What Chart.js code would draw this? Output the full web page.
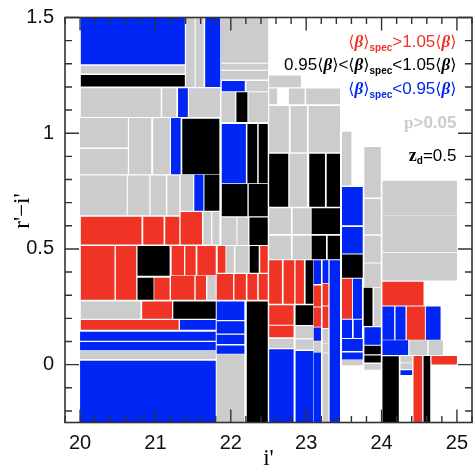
<!DOCTYPE html>
<html>
<head>
<meta charset="utf-8">
<script src="https://cdn.jsdelivr.net/npm/chart.js@4"></script>
<style>
  html, body { margin: 0; padding: 0; background: #fff; }
  #wrap { width: 476px; height: 473px; }
</style>
</head>
<body>
<div id="wrap"><canvas id="chart"></canvas></div>
<script>
// tick labels
const xMajorTicks = [20, 21, 22, 23, 24, 25];
const yMajorTicks = [0, 0.5, 1, 1.5];

// cells: [i min, i max, r-i min, r-i max]
const blueCells = [
  [20.01, 21.39, 1.298, 1.5], [21.66, 21.86, 1.2, 1.5], [21.3, 21.43, 1.07, 1.194],
  [21.206, 21.334, 0.823, 1.066], [21.88, 22.185, 1.181, 1.226], [21.88, 22.2, 0.784, 1.04],
  [21.516, 21.636, 0.665, 0.82], [21.325, 21.8, 0.151, 0.193], [20, 21.8, 0.103, 0.142],
  [20, 21.8, 0.062, 0.098], [20, 21.8, -0.25, 0.017], [21.813, 22.18, 0.193, 0.273],
  [21.813, 22.18, 0.135, 0.187], [21.813, 22.18, 0.089, 0.129], [21.813, 22.18, 0.047, 0.083],
  [23.475, 23.75, 0.602, 0.768], [23.475, 23.75, 0.48, 0.595], [23.62, 23.74, 0.198, 0.371],
  [23.475, 23.608, 0.115, 0.194], [23.63, 23.74, 0.115, 0.194], [23.475, 23.75, 0.059, 0.111],
  [23.475, 23.75, 0.022, 0.053], [23.772, 23.99, 0.086, 0.162], [24.012, 24.167, 0.108, 0.251],
  [24.185, 24.318, 0.108, 0.251], [24.588, 24.783, 0.108, 0.251], [24.012, 24.353, 0.042, 0.105],
  [24.251, 24.406, -0.045, -0.024], [23.099, 23.196, 0.348, 0.451], [23.218, 23.294, 0.353, 0.451],
  [23.311, 23.449, -0.25, 0.451], [23.099, 23.196, 0.103, 0.161], [23.099, 23.196, -0.25, 0.052],
  [22.509, 22.833, -0.25, 0.066], [22.859, 23.094, -0.25, 0.059]
];

const redCells = [
  [20.01, 20.815, 0.519, 0.639], [20.838, 21.108, 0.519, 0.639], [21.13, 21.316, 0.519, 0.639],
  [21.334, 21.618, 0.519, 0.66], [20.01, 20.457, 0.28, 0.513], [20.475, 20.745, 0.28, 0.513],
  [21.215, 21.379, 0.386, 0.513], [21.396, 21.534, 0.386, 0.513], [21.556, 21.8, 0.386, 0.513],
  [20.984, 21.188, 0.28, 0.376], [21.206, 21.516, 0.28, 0.384], [21.534, 21.671, 0.28, 0.384],
  [21.826, 21.929, 0.397, 0.513], [22.39, 22.49, 0.397, 0.513], [21.813, 22.03, 0.28, 0.392],
  [22.048, 22.2, 0.28, 0.392], [22.22, 22.35, 0.28, 0.392], [22.37, 22.49, 0.28, 0.392],
  [20.824, 21.22, 0.198, 0.273], [20.01, 21.308, 0.151, 0.193], [22.509, 22.678, 0.263, 0.451],
  [22.7, 22.842, 0.263, 0.451], [22.859, 22.97, 0.263, 0.451], [23.099, 23.196, 0.251, 0.342],
  [23.218, 23.294, 0.256, 0.349], [23.099, 23.196, 0.164, 0.247], [23.218, 23.294, 0.158, 0.251],
  [22.509, 22.833, 0.172, 0.257], [22.509, 22.833, 0.118, 0.168], [23.475, 23.608, 0.198, 0.371],
  [24.012, 24.557, 0.256, 0.358], [24.335, 24.575, 0.108, 0.251], [24.424, 24.539, -0.25, 0.037],
  [24.663, 25, 0.001, 0.037]
];

const blackCells = [
  [20.01, 21.39, 1.202, 1.252], [21.356, 21.848, 0.823, 1.063], [21.65, 21.848, 0.665, 0.82],
  [22.074, 22.22, 1.048, 1.177], [22.22, 22.35, 0.784, 1.04], [22.37, 22.49, 0.784, 1.04],
  [21.88, 22.22, 0.641, 0.781], [22.238, 22.49, 0.641, 0.781], [22.247, 22.49, 0.517, 0.636],
  [20.762, 21.188, 0.384, 0.513], [20.762, 20.975, 0.28, 0.376], [22.25, 22.37, 0.397, 0.513],
  [21.237, 21.8, 0.198, 0.273], [22.212, 22.49, -0.25, 0.273], [22.509, 22.762, 0.682, 0.911],
  [23.041, 23.249, 0.682, 0.911], [23.272, 23.449, 0.682, 0.911], [23.072, 23.449, 0.565, 0.676],
  [23.072, 23.263, 0.455, 0.557], [23.285, 23.449, 0.455, 0.557], [22.992, 23.094, 0.263, 0.451],
  [22.859, 23.094, 0.171, 0.257], [23.475, 23.75, 0.376, 0.476], [23.763, 23.88, 0.167, 0.332],
  [23.772, 23.99, 0.045, 0.082], [23.772, 23.99, 0.009, 0.039], [24.012, 24.229, -0.25, 0.036],
  [24.557, 24.646, -0.25, 0.037]
];

const grayCells = [
  [20.01, 21.39, 1.258, 1.291], [21.405, 21.52, 1.2, 1.5], [21.534, 21.64, 1.2, 1.5],
  [20.01, 21.07, 1.07, 1.194], [21.09, 21.277, 1.07, 1.194], [21.445, 21.857, 1.07, 1.194],
  [20, 20.634, 0.938, 1.066], [20, 20.634, 0.823, 0.932], [20.65, 20.944, 0.823, 1.066],
  [20.97, 21.19, 0.823, 1.066], [20, 20.62, 0.646, 0.817], [20.634, 20.918, 0.646, 0.817],
  [20.935, 21.139, 0.646, 0.817], [21.157, 21.316, 0.646, 0.817], [21.334, 21.498, 0.665, 0.82],
  [21.87, 22.495, 1.305, 1.5], [21.87, 22.495, 1.274, 1.3], [21.87, 22.495, 1.232, 1.27],
  [22.207, 22.495, 1.181, 1.226], [21.875, 22.057, 1.048, 1.177], [22.234, 22.495, 1.048, 1.177],
  [21.636, 21.738, 0.519, 0.66], [21.755, 21.848, 0.519, 0.66], [21.875, 22.074, 0.517, 0.636],
  [22.088, 22.23, 0.517, 0.636], [21.689, 21.8, 0.28, 0.384], [21.94, 22.043, 0.397, 0.513],
  [22.06, 22.234, 0.397, 0.513], [20.01, 20.8, 0.198, 0.273], [20, 21.8, 0.024, 0.059],
  [21.813, 22.18, -0.25, 0.045], [22.509, 22.93, 1.199, 1.249], [22.509, 22.615, 1.125, 1.193],
  [22.77, 22.979, 1.125, 1.193], [23, 23.449, 1.125, 1.193], [22.509, 22.77, 0.918, 1.118],
  [22.793, 23.01, 0.918, 1.118], [23.032, 23.449, 0.918, 1.118], [22.78, 23.01, 0.682, 0.911],
  [23.475, 23.6, 0.774, 1.006], [23.772, 23.99, 0.722, 0.94], [23.772, 23.99, 0.563, 0.716],
  [24.012, 25, 0.646, 0.795], [24.012, 25, 0.487, 0.644], [24.012, 25, 0.364, 0.483],
  [24.371, 24.606, 0.042, 0.105], [24.624, 24.814, 0.042, 0.105], [24.251, 24.406, 0.009, 0.037],
  [24.251, 24.406, -0.019, 0.006], [23.475, 23.75, -0.003, 0.02], [23.772, 23.99, 0.441, 0.557],
  [23.772, 23.99, 0.336, 0.437], [23.9, 23.99, 0.167, 0.332], [23.772, 23.99, -0.022, 0.003],
  [22.509, 22.797, 0.565, 0.676], [22.82, 23.06, 0.565, 0.676], [22.509, 22.797, 0.455, 0.557],
  [22.82, 23.06, 0.455, 0.557], [23.218, 23.294, 0.093, 0.154], [23.218, 23.294, 0.052, 0.091],
  [23.218, 23.294, -0.25, 0.049], [23.099, 23.196, 0.055, 0.101], [22.509, 22.833, 0.072, 0.112],
  [22.859, 23.094, 0.114, 0.167], [22.859, 23.094, 0.065, 0.109]
];

// colores
const colorRed = '#ef3425';
const colorBlue = '#0026f5';
const colorBlack = '#000000';
const colorGray = '#cccccc';
const colorFrame = '#333333';

// each cell is a closed line filled as a shape
function cellDataset(cell, color) {
  const [x0, x1, y0, y1] = cell;
  return {
    data: [{x: x0, y: y0}, {x: x1, y: y0}, {x: x1, y: y1}, {x: x0, y: y1}, {x: x0, y: y0}],
    showLine: true,
    fill: 'shape',
    backgroundColor: color,
    borderWidth: 0,
    pointRadius: 0,
    tension: 0
  };
}

const datasets = [
  ...grayCells.map(c => cellDataset(c, colorGray)),
  ...redCells.map(c => cellDataset(c, colorRed)),
  ...blueCells.map(c => cellDataset(c, colorBlue)),
  ...blackCells.map(c => cellDataset(c, colorBlack))
];

// ticks point inwards on all four sides, so they are drawn on top of the cells
const frameTicks = {
  id: 'frameTicks',
  afterDatasetsDraw(chart) {
    const {ctx, chartArea: a, scales} = chart;
    ctx.save();
    ctx.strokeStyle = colorFrame;
    ctx.lineWidth = 1.4;
    ctx.beginPath();
    scales.x.ticks.forEach(t => {
      const px = scales.x.getPixelForValue(t.value);
      const len = t.label !== '' ? 13 : 6.5;
      ctx.moveTo(px, a.top); ctx.lineTo(px, a.top + len);
      ctx.moveTo(px, a.bottom); ctx.lineTo(px, a.bottom - len);
    });
    scales.y.ticks.forEach(t => {
      const py = scales.y.getPixelForValue(t.value);
      const len = t.label !== '' ? 14 : 7;
      ctx.moveTo(a.left, py); ctx.lineTo(a.left + len, py);
      ctx.moveTo(a.right, py); ctx.lineTo(a.right - len, py);
    });
    ctx.stroke();
    ctx.lineWidth = 1.6;
    ctx.strokeRect(a.left, a.top, a.right - a.left, a.bottom - a.top);
    ctx.restore();
  }
};

const fontText = '17px "Liberation Sans"';
const fontBeta = 'italic bold 17px "Liberation Serif"';
const fontAngle = '16px "DejaVu Sans"';
const fontSub = 'bold 10px "Liberation Sans"';
const beta = [['\u27E8', fontAngle], ['\u03B2', fontBeta], ['\u27E9', fontAngle]];
const spec = [['spec', fontSub, 4]];

// one line of mixed fonts, right aligned
function drawLine(ctx, parts, right, y, color) {
  let total = 0;
  parts.forEach(p => { ctx.font = p[1]; total += ctx.measureText(p[0]).width; });
  let x = right - total;
  ctx.fillStyle = color;
  ctx.textAlign = 'left';
  ctx.textBaseline = 'alphabetic';
  parts.forEach(p => {
    ctx.font = p[1];
    ctx.fillText(p[0], x, y + (p[2] || 0));
    x += ctx.measureText(p[0]).width;
  });
}

const annotations = {
  id: 'annotations',
  afterDraw(chart) {
    const ctx = chart.ctx;
    ctx.save();
    drawLine(ctx, [...beta, ...spec, ['>1.05', fontText], ...beta], 456.5, 47, colorRed);
    drawLine(ctx, [['0.95', fontText], ...beta, ['<', fontText], ...beta, ...spec, ['<1.05', fontText], ...beta], 456.5, 70, colorBlack);
    drawLine(ctx, [...beta, ...spec, ['<0.95', fontText], ...beta], 456.5, 94, colorBlue);
    drawLine(ctx, [['p', 'bold 17px "Liberation Serif"'], ['>0.05', 'bold 17px "Liberation Sans"']], 456.5, 128, colorGray);
    drawLine(ctx, [['z', 'bold 18px "Liberation Serif"'], ['d', fontSub, 3], ['=0.5', '17px "Liberation Sans"']], 456.5, 161, colorBlack);
    // y axis title sits above the middle of the axis
    ctx.translate(29, 211);
    ctx.rotate(-Math.PI / 2);
    ctx.font = '23px "Liberation Serif"';
    ctx.fillStyle = colorBlack;
    ctx.textAlign = 'center';
    ctx.textBaseline = 'alphabetic';
    ctx.fillText("r'\u2212i'", 0, 0);
    ctx.restore();
  }
};

const tickFont = {family: '"Liberation Sans"', size: 20};

// the scale would otherwise reserve room for half a label at each end
function clearPadding(s) {
  s.paddingTop = 0;
  s.paddingBottom = 0;
  s.paddingLeft = 0;
  s.paddingRight = 0;
}

new Chart(document.getElementById('chart').getContext('2d'), {
  type: 'scatter',
  data: {datasets},
  plugins: [frameTicks, annotations],
  options: {
    responsive: true,
    maintainAspectRatio: false,
    animation: false,
    layout: {padding: {top: 17.5, right: 4, left: 0, bottom: 0}},
    plugins: {legend: {display: false}, tooltip: {enabled: false}},
    scales: {
      x: {
        type: 'linear',
        min: 19.8,
        max: 25.2,
        grid: {display: false, drawTicks: false, tickLength: 0},
        border: {display: false},
        title: {display: true, text: "i'", color: '#000', padding: 0, font: {family: '"Liberation Serif"', size: 23}},
        ticks: {
          stepSize: 0.2,
          includeBounds: false,
          autoSkip: false,
          maxRotation: 0,
          padding: 9,
          color: '#111',
          font: tickFont,
          callback: v => {
            const r = Math.round(v * 10) / 10;
            return xMajorTicks.includes(r) ? String(r) : '';
          }
        },
        afterFit: s => { s.height = 50.5; clearPadding(s); }
      },
      y: {
        type: 'linear',
        min: -0.25,
        max: 1.5,
        grid: {display: false, drawTicks: false, tickLength: 0},
        border: {display: false},
        ticks: {
          stepSize: 0.1,
          includeBounds: false,
          autoSkip: false,
          padding: 11,
          color: '#111',
          font: tickFont,
          callback: v => {
            const r = Math.round(v * 10) / 10;
            return yMajorTicks.includes(r) ? String(r) : '';
          }
        },
        afterFit: s => { s.width = 65; clearPadding(s); }
      }
    }
  }
});
</script>
</body>
</html>
